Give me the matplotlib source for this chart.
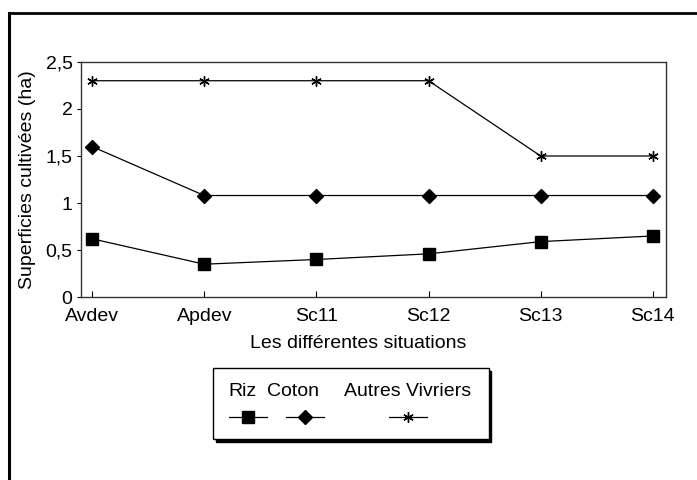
import matplotlib.pyplot as plt
from matplotlib.patches import Rectangle
from matplotlib.lines import Line2D

# Data
situations = ['Avdev', 'Apdev', 'Sc11', 'Sc12', 'Sc13', 'Sc14']
riz = [0.62, 0.35, 0.40, 0.46, 0.59, 0.65]
coton = [1.60, 1.08, 1.08, 1.08, 1.08, 1.08]
autres_vivriers = [2.30, 2.30, 2.30, 2.30, 1.50, 1.50]
yticks = [0, 0.5, 1, 1.5, 2, 2.5]
ytick_labels = ['0', '0,5', '1', '1,5', '2', '2,5']

plt.rcParams['font.family'] = ['Liberation Sans', 'DejaVu Sans']
fs = 14

fig = plt.figure(figsize=(6.97, 4.80), dpi=100)
ax = fig.add_axes([0.116, 0.381, 0.840, 0.490])

x = range(len(situations))
ast = (6, 2, 0)
ax.plot(x, riz, color='black', lw=0.9, marker='s', markersize=9, label='Riz')
ax.plot(x, coton, color='black', lw=0.9, marker='D', markersize=7, label='Coton')
ax.plot(x, autres_vivriers, color='black', lw=0.9, marker=ast, markersize=7.5,
        markeredgewidth=1.0, label='Autres Vivriers')

ax.set_xlim(-0.1, 5.12)
ax.set_ylim(0, 2.5)
ax.set_xticks(list(x))
ax.set_xticklabels(situations, fontsize=fs)
ax.set_yticks(yticks)
ax.set_yticklabels(ytick_labels, fontsize=fs)
ax.tick_params(axis='x', direction='in', length=4, pad=7.5)
ax.tick_params(axis='y', direction='out', length=3, pad=3)
for s in ax.spines.values():
    s.set_linewidth(1.0)
    s.set_color('#333333')
ax.set_xlabel('Les différentes situations', fontsize=fs)
ax.xaxis.set_label_coords(0.474, -0.16)
ax.set_ylabel('Superficies cultivées (ha)', fontsize=fs)
ax.yaxis.set_label_coords(-0.076, 0.5)

# outer frame (scanned page: top and left edges)
fig.add_artist(Line2D([0.013, 0.013], [0.0, 0.973], color='black', lw=2.2,
                      transform=fig.transFigure))
fig.add_artist(Line2D([0.013, 1.0], [0.973, 0.973], color='black', lw=2.0,
                      transform=fig.transFigure))

# legend box with labels above the handles
lx, ly, lw, lh = 0.306, 0.085, 0.395, 0.148
fig.add_artist(Rectangle((lx + 0.004, ly - 0.006), lw, lh, transform=fig.transFigure,
                         facecolor='black', edgecolor='black'))
fig.add_artist(Rectangle((lx, ly), lw, lh, transform=fig.transFigure,
                         facecolor='white', edgecolor='black', lw=1.0))
names = ['Riz', 'Coton', 'Autres Vivriers']
text_x = [243, 293, 408]
handle_x = [248, 305, 408]
styles = [('s', 9), ('D', 7), (ast, 7.5)]
for name, tx, hx, (m, ms) in zip(names, text_x, handle_x, styles):
    fig.text(tx / 697, 1 - 391 / 480, name, fontsize=fs, ha='center', va='center')
    fig.add_artist(Line2D([(hx - 19) / 697, (hx + 19) / 697], [1 - 417 / 480] * 2,
                          color='black', lw=0.9, transform=fig.transFigure))
    fig.add_artist(Line2D([hx / 697], [1 - 417 / 480], marker=m, markersize=ms,
                          color='black', lw=0, transform=fig.transFigure))

fig.savefig('out.png', dpi=100)
